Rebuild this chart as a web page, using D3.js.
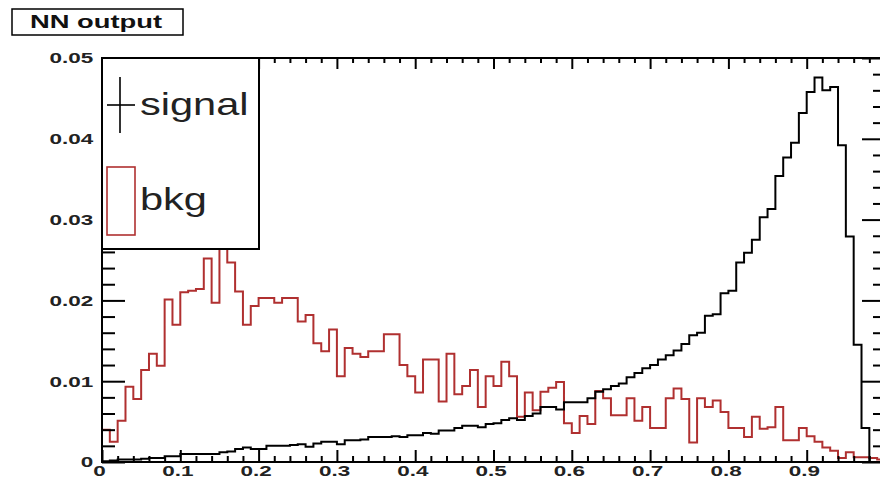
<!DOCTYPE html>
<html>
<head>
<meta charset="utf-8">
<script src="https://cdn.jsdelivr.net/npm/d3@7"></script>
<style>
  body { margin: 0; background: #fff; }
  svg { display: block; }
  .tick text { font-family: "Liberation Sans", Arial, sans-serif; font-weight: bold; font-size: 15.5px; fill: #222; }
</style>
</head>
<body>
<div id="chart"></div>
<script>
// histogram binning (100 bins between 0 and 1)
var nBins = 100;
var xMin = 0;
var xMax = 1;

// NN output, signal (black)
var signalValues = [
  0.0001, 0.0002, 0.0003, 0.0003, 0.0003, 0.0004, 0.0005, 0.0005, 0.0007, 0.0007,
  0.0010, 0.0010, 0.0010, 0.0010, 0.0010, 0.0012, 0.0013, 0.0016, 0.0018, 0.0016,
  0.0016, 0.0020, 0.0020, 0.0020, 0.0021, 0.0022, 0.0019, 0.0023, 0.0025, 0.0025,
  0.0022, 0.0027, 0.0027, 0.0028, 0.0031, 0.0031, 0.0031, 0.0032, 0.0031, 0.0033,
  0.0033, 0.0036, 0.0035, 0.0039, 0.0039, 0.0042, 0.0045, 0.0045, 0.0043, 0.0047,
  0.0048, 0.0052, 0.0054, 0.0052, 0.0057, 0.0060, 0.0068, 0.0068, 0.0065, 0.0074,
  0.0074, 0.0074, 0.0079, 0.0087, 0.0090, 0.0094, 0.0097, 0.0105, 0.0110, 0.0116,
  0.0120, 0.0127, 0.0132, 0.0138, 0.0146, 0.0157, 0.0160, 0.0181, 0.0183, 0.0209,
  0.0212, 0.0247, 0.0259, 0.0275, 0.0303, 0.0313, 0.0354, 0.0377, 0.0395, 0.0432,
  0.0458, 0.0476, 0.0460, 0.0464, 0.0392, 0.0279, 0.0145, 0.0042, 0, 0
];

// NN output, background (red)
var bkgValues = [
  0.0040, 0.0025, 0.0051, 0.0093, 0.0078, 0.0114, 0.0134, 0.0119, 0.0201, 0.0170,
  0.0210, 0.0212, 0.0214, 0.0252, 0.0197, 0.0285, 0.0247, 0.0211, 0.0170, 0.0193,
  0.0203, 0.0203, 0.0197, 0.0203, 0.0203, 0.0174, 0.0182, 0.0147, 0.0137, 0.0164,
  0.0106, 0.0141, 0.0134, 0.0130, 0.0137, 0.0137, 0.0158, 0.0158, 0.0120, 0.0106,
  0.0086, 0.0127, 0.0127, 0.0075, 0.0134, 0.0084, 0.0094, 0.0114, 0.0068, 0.0106,
  0.0094, 0.0124, 0.0106, 0.0056, 0.0086, 0.0064, 0.0087, 0.0092, 0.0099, 0.0048,
  0.0036, 0.0057, 0.0047, 0.0088, 0.0079, 0.0058, 0.0058, 0.0079, 0.0051, 0.0068,
  0.0042, 0.0042, 0.0079, 0.0091, 0.0078, 0.0024, 0.0079, 0.0068, 0.0076, 0.0062,
  0.0042, 0.0042, 0.0031, 0.0056, 0.0041, 0.0043, 0.0068, 0.0027, 0.0027, 0.0042,
  0.0032, 0.0025, 0.0018, 0.0014, 0.0005, 0.0012, 0.0006, 0.0006, 0.0005, 0.0003
];

// axis ticks and labels (the label at 1 falls outside the picture)
var xMajorTicks = [0, 0.1, 0.2, 0.3, 0.4, 0.5, 0.6, 0.7, 0.8, 0.9, 1];
var xTickLabels = ["0", "0.1", "0.2", "0.3", "0.4", "0.5", "0.6", "0.7", "0.8", "0.9", ""];
var yMajorTicks = [0, 0.01, 0.02, 0.03, 0.04, 0.05];
var yTickLabels = ["0", "0.01", "0.02", "0.03", "0.04", "0.05"];

var titleText = "NN output";
var legendNames = ["signal", "bkg"];

var svgWidth = 880;
var svgHeight = 479;

// frame (the right edge sits just past the window, as in the picture)
var frame = { left: 102, top: 58, right: 885, bottom: 462 };
var stretch = 1.45; // the picture's text is stretched sideways

var red = "#b03030";

var svg = d3.select("#chart")
  .append("svg")
  .attr("width", svgWidth)
  .attr("height", svgHeight);

var x = d3.scaleLinear().domain([xMin, xMax]).range([frame.left, frame.right]);
var y = d3.scaleLinear().domain([0, 0.05]).range([frame.bottom, frame.top]);

// minor ticks: 5 per major division
var xMinor = d3.range(0, 50).map(i => i / 50).filter(v => Math.round(v * 50) % 5 !== 0);
var yMinor = d3.range(0, 25).map(i => i * 0.002).filter((v, i) => i % 5 !== 0);

svg.append("clipPath").attr("id", "frameClip")
  .append("rect")
  .attr("x", frame.left).attr("y", frame.top)
  .attr("width", frame.right - frame.left).attr("height", frame.bottom - frame.top);

// step outline for a histogram
function histPath(values) {
  var pts = [[xMin, 0]];
  values.forEach(function(v, i) {
    var lo = xMin + i * (xMax - xMin) / nBins;
    var hi = xMin + (i + 1) * (xMax - xMin) / nBins;
    pts.push([lo, v]);
    pts.push([hi, v]);
  });
  pts.push([xMax, 0]);
  return d3.line().x(d => x(d[0])).y(d => y(d[1]))(pts);
}

var histGroup = svg.append("g").attr("clip-path", "url(#frameClip)");

histGroup.append("path")
  .attr("d", histPath(bkgValues))
  .attr("fill", "none")
  .attr("stroke", red)
  .attr("stroke-width", 2);

histGroup.append("path")
  .attr("d", histPath(signalValues))
  .attr("fill", "none")
  .attr("stroke", "#000")
  .attr("stroke-width", 2);

// frame
svg.append("rect")
  .attr("x", frame.left).attr("y", frame.top)
  .attr("width", frame.right - frame.left).attr("height", frame.bottom - frame.top)
  .attr("fill", "none")
  .attr("stroke", "#000")
  .attr("stroke-width", 2);

function styleAxis(g) {
  g.select(".domain").remove();
  g.selectAll(".tick line").attr("stroke", "#000").attr("stroke-width", 2);
}

// bottom axis
var xAxis = svg.append("g")
  .attr("transform", `translate(0, ${frame.bottom})`)
  .call(d3.axisBottom(x).tickValues(xMajorTicks).tickSizeInner(-12).tickSizeOuter(0)
    .tickPadding(3).tickFormat((d, i) => xTickLabels[i]))
  .call(styleAxis);
xAxis.selectAll(".tick text")
  .attr("x", -2)
  .attr("transform", `scale(${stretch},1)`);

svg.append("g")
  .attr("transform", `translate(0, ${frame.bottom})`)
  .call(d3.axisBottom(x).tickValues(xMinor).tickSizeInner(-6).tickSizeOuter(0).tickFormat(""))
  .call(styleAxis);

// top axis
svg.append("g")
  .attr("transform", `translate(0, ${frame.top})`)
  .call(d3.axisTop(x).tickValues(xMajorTicks).tickSizeInner(-11).tickSizeOuter(0).tickFormat(""))
  .call(styleAxis);
svg.append("g")
  .attr("transform", `translate(0, ${frame.top})`)
  .call(d3.axisTop(x).tickValues(xMinor).tickSizeInner(-5).tickSizeOuter(0).tickFormat(""))
  .call(styleAxis);

// left axis
var yAxis = svg.append("g")
  .attr("transform", `translate(${frame.left}, 0)`)
  .call(d3.axisLeft(y).tickValues(yMajorTicks).tickSizeInner(-23).tickSizeOuter(0)
    .tickPadding(6).tickFormat((d, i) => yTickLabels[i]))
  .call(styleAxis);
yAxis.selectAll(".tick text")
  .attr("transform", `scale(${stretch},1)`);

svg.append("g")
  .attr("transform", `translate(${frame.left}, 0)`)
  .call(d3.axisLeft(y).tickValues(yMinor).tickSizeInner(-13).tickSizeOuter(0).tickFormat(""))
  .call(styleAxis);

// right axis
svg.append("g")
  .attr("transform", `translate(${frame.right}, 0)`)
  .call(d3.axisRight(y).tickValues(yMajorTicks).tickSizeInner(-23).tickSizeOuter(0).tickFormat(""))
  .call(styleAxis);
svg.append("g")
  .attr("transform", `translate(${frame.right}, 0)`)
  .call(d3.axisRight(y).tickValues(yMinor).tickSizeInner(-12).tickSizeOuter(0).tickFormat(""))
  .call(styleAxis);

// title box
svg.append("rect")
  .attr("x", 12).attr("y", 9)
  .attr("width", 171).attr("height", 26)
  .attr("fill", "#fff")
  .attr("stroke", "#000")
  .attr("stroke-width", 1.5);
svg.append("text")
  .attr("transform", `translate(30, 28) scale(1.52,1)`)
  .attr("font-family", "Liberation Sans, Arial, sans-serif")
  .attr("font-weight", "bold")
  .attr("font-size", 18)
  .attr("fill", "#111")
  .text(titleText);

// legend
var legend = svg.append("g");
legend.append("rect")
  .attr("x", frame.left).attr("y", frame.top)
  .attr("width", 157).attr("height", 191)
  .attr("fill", "#fff")
  .attr("stroke", "#000")
  .attr("stroke-width", 2);

// signal marker: error-bar cross
legend.append("line")
  .attr("x1", 120).attr("x2", 120).attr("y1", 77).attr("y2", 133)
  .attr("stroke", "#000").attr("stroke-width", 1.6);
legend.append("line")
  .attr("x1", 107).attr("x2", 135).attr("y1", 105).attr("y2", 105)
  .attr("stroke", "#000").attr("stroke-width", 1.6);

// bkg marker: open box
legend.append("rect")
  .attr("x", 107).attr("y", 167)
  .attr("width", 28).attr("height", 68)
  .attr("fill", "none")
  .attr("stroke", red)
  .attr("stroke-width", 1.6);

legend.selectAll("text.entry")
  .data(legendNames)
  .enter()
  .append("text")
  .attr("class", "entry")
  .attr("transform", (d, i) => `translate(140, ${i === 0 ? 115 : 210}) scale(1.34,1)`)
  .attr("font-family", "Liberation Sans, Arial, sans-serif")
  .attr("font-size", 31)
  .attr("fill", "#222")
  .text(d => d);
</script>
</body>
</html>
